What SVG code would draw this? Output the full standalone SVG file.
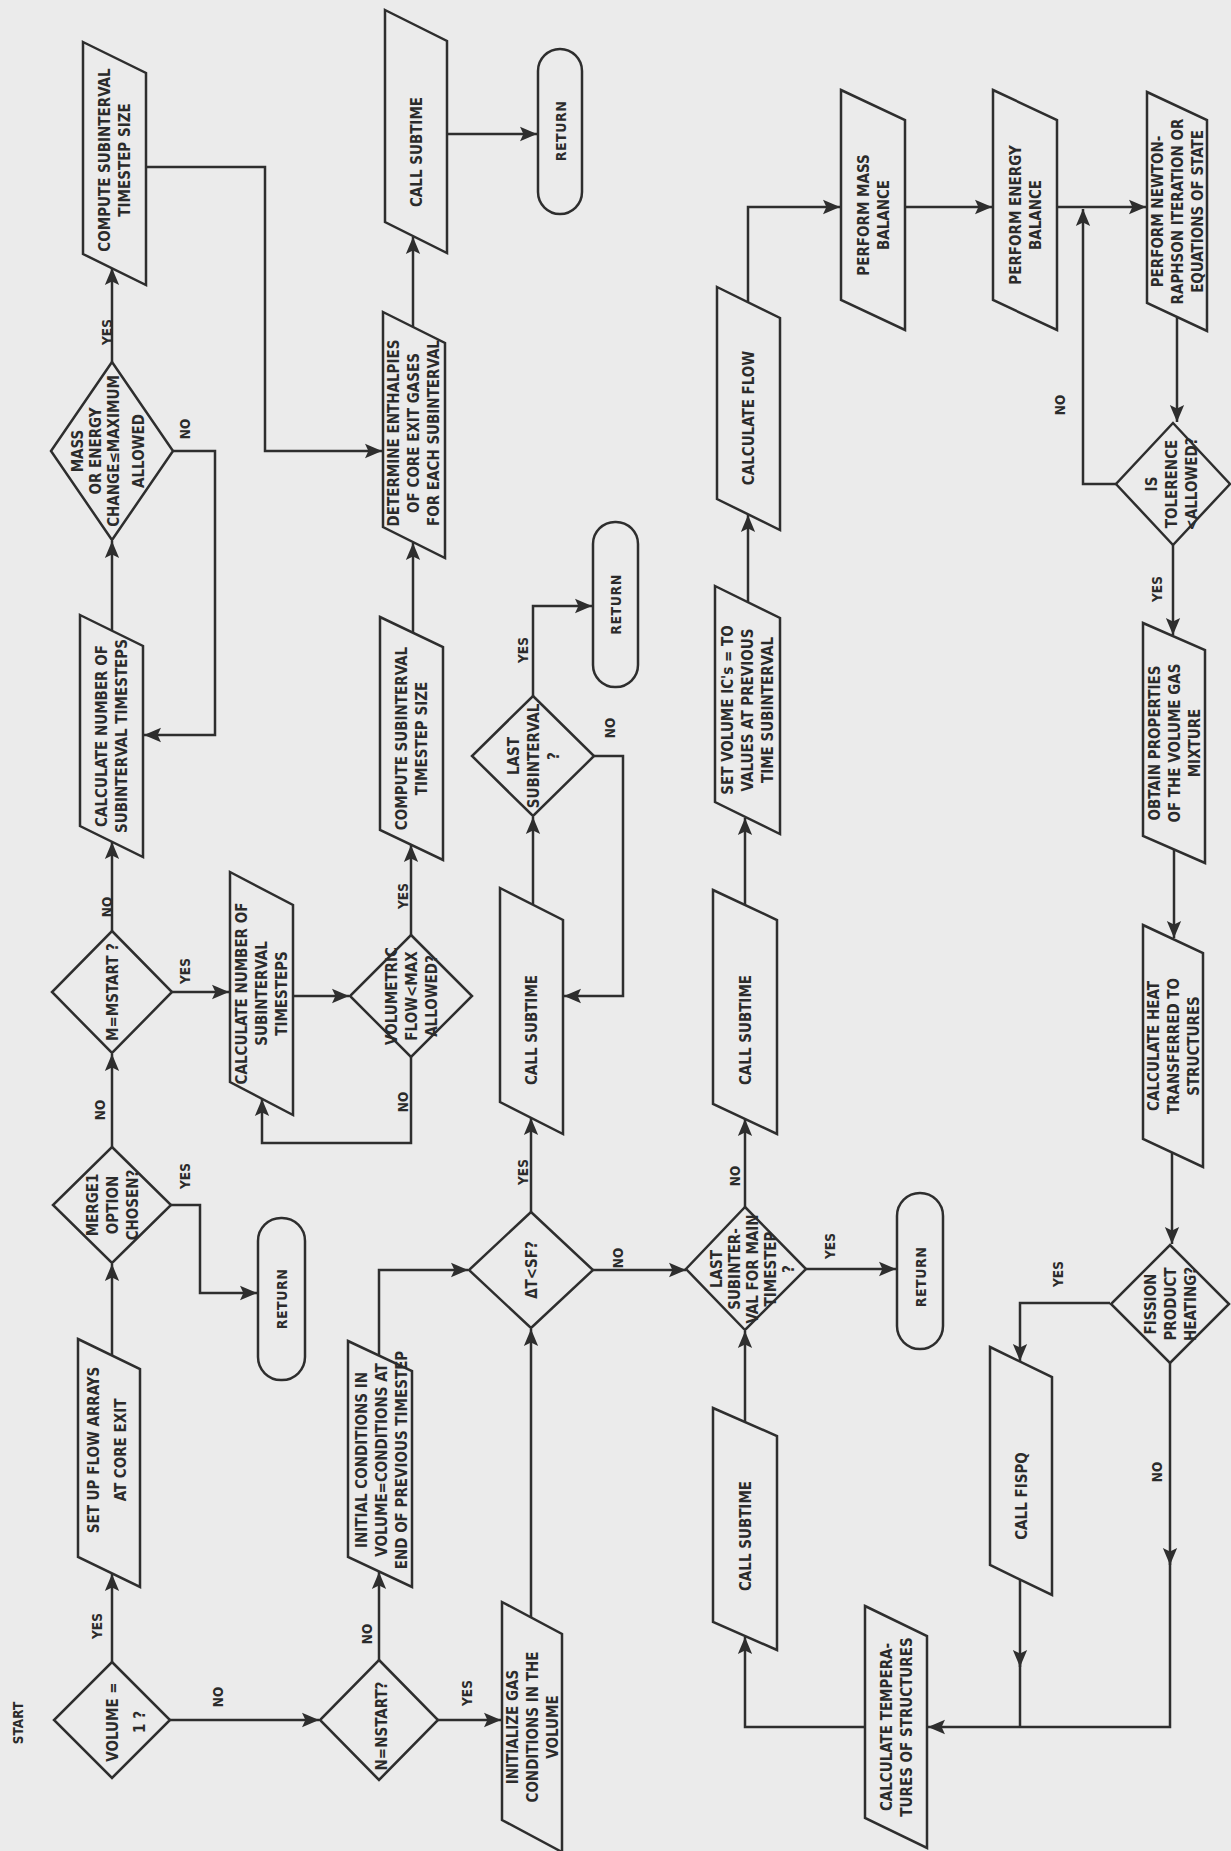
<svg xmlns="http://www.w3.org/2000/svg" width="1231" height="1851" viewBox="0 0 1231 1851">
<style>
.bg{fill:#ebebeb}
.n{fill:none;stroke:#2e2e2e;stroke-width:2.5;stroke-linejoin:miter}
.c{fill:none;stroke:#2e2e2e;stroke-width:2.5}
.t{font-family:"DejaVu Sans Condensed","DejaVu Sans","Liberation Sans",sans-serif;font-stretch:condensed;font-weight:bold;font-size:15px;fill:#2b2b2b;text-anchor:middle}
.l{font-family:"DejaVu Sans Condensed","DejaVu Sans","Liberation Sans",sans-serif;font-stretch:condensed;font-weight:bold;font-size:13.5px;fill:#2b2b2b;text-anchor:middle}
.r{letter-spacing:0.5px;font-size:14px}
</style>
<defs>
<marker id="a" viewBox="0 0 10 10" refX="10" refY="5" markerWidth="17" markerHeight="17" markerUnits="userSpaceOnUse" orient="auto">
<path d="M0,0.8 L10,5 L0,9.2 L2,5 z" fill="#2e2e2e"/>
</marker>
</defs>
<rect class="bg" x="0" y="0" width="1231" height="1851"/>

<g id="connectors">
<path class="c" d="M112,1662 V1574" marker-end="url(#a)"/>
<path class="c" d="M112,1355 V1264" marker-end="url(#a)"/>
<path class="c" d="M171,1205 H200 V1293 H257" marker-end="url(#a)"/>
<path class="c" d="M112,1147 V1054" marker-end="url(#a)"/>
<path class="c" d="M112,931 V842" marker-end="url(#a)"/>
<path class="c" d="M172,992 H229" marker-end="url(#a)"/>
<path class="c" d="M112,630 V541" marker-end="url(#a)"/>
<path class="c" d="M112,362 V268" marker-end="url(#a)"/>
<path class="c" d="M173,451 H215 V735 H144" marker-end="url(#a)"/>
<path class="c" d="M146,167 H265 V451 H382" marker-end="url(#a)"/>
<path class="c" d="M293,996 H349" marker-end="url(#a)"/>
<path class="c" d="M411,935 V845" marker-end="url(#a)"/>
<path class="c" d="M411,1057 V1143 H262 V1099" marker-end="url(#a)"/>
<path class="c" d="M413,633 V543" marker-end="url(#a)"/>
<path class="c" d="M413,327 V237" marker-end="url(#a)"/>
<path class="c" d="M447,134 H537" marker-end="url(#a)"/>
<path class="c" d="M170,1720 H319" marker-end="url(#a)"/>
<path class="c" d="M379,1662 V1572" marker-end="url(#a)"/>
<path class="c" d="M379,1356 V1270 H468" marker-end="url(#a)"/>
<path class="c" d="M438,1720 H501" marker-end="url(#a)"/>
<path class="c" d="M531,1618 V1329" marker-end="url(#a)"/>
<path class="c" d="M531,1212 V1118" marker-end="url(#a)"/>
<path class="c" d="M593,1270 H686" marker-end="url(#a)"/>
<path class="c" d="M533,904 V817" marker-end="url(#a)"/>
<path class="c" d="M533,696 V606 H592" marker-end="url(#a)"/>
<path class="c" d="M594,756 H623 V996 H564" marker-end="url(#a)"/>
<path class="c" d="M745,1208 V1119" marker-end="url(#a)"/>
<path class="c" d="M806,1269 H896" marker-end="url(#a)"/>
<path class="c" d="M745,905 V818" marker-end="url(#a)"/>
<path class="c" d="M748,602 V515" marker-end="url(#a)"/>
<path class="c" d="M748,302 V207 H840" marker-end="url(#a)"/>
<path class="c" d="M905,207 H992" marker-end="url(#a)"/>
<path class="c" d="M1057,207 H1146" marker-end="url(#a)"/>
<path class="c" d="M1116,484 H1083 V209" marker-end="url(#a)"/>
<path class="c" d="M1177,317 V422" marker-end="url(#a)"/>
<path class="c" d="M1173,545 V635" marker-end="url(#a)"/>
<path class="c" d="M1174,849 V938" marker-end="url(#a)"/>
<path class="c" d="M1172,1153 V1244" marker-end="url(#a)"/>
<path class="c" d="M1110,1303 H1020 V1361" marker-end="url(#a)"/>
<path class="c" d="M1020,1580 V1667" marker-end="url(#a)"/>
<path class="c" d="M1020,1660 V1727"/>
<path class="c" d="M1170,1363 V1565" marker-end="url(#a)"/>
<path class="c" d="M1170,1558 V1727 H928" marker-end="url(#a)"/>
<path class="c" d="M866,1727 H745 V1637" marker-end="url(#a)"/>
<path class="c" d="M745,1422 V1331" marker-end="url(#a)"/>
</g>

<g id="labels">
<text class="l" transform="translate(18,1723) rotate(-90)" y="5">START</text>
<text class="l" transform="translate(107,332) rotate(-90)" y="5">YES</text>
<text class="l" transform="translate(185,429) rotate(-90)" y="5">NO</text>
<text class="l" transform="translate(107,907) rotate(-90)" y="5">NO</text>
<text class="l" transform="translate(185,971) rotate(-90)" y="5">YES</text>
<text class="l" transform="translate(403,896) rotate(-90)" y="5">YES</text>
<text class="l" transform="translate(403,1102) rotate(-90)" y="5">NO</text>
<text class="l" transform="translate(100,1110) rotate(-90)" y="5">NO</text>
<text class="l" transform="translate(185,1176) rotate(-90)" y="5">YES</text>
<text class="l" transform="translate(97,1626) rotate(-90)" y="5">YES</text>
<text class="l" transform="translate(218,1697) rotate(-90)" y="5">NO</text>
<text class="l" transform="translate(367,1634) rotate(-90)" y="5">NO</text>
<text class="l" transform="translate(467,1693) rotate(-90)" y="5">YES</text>
<text class="l" transform="translate(523,1172) rotate(-90)" y="5">YES</text>
<text class="l" transform="translate(618,1258) rotate(-90)" y="5">NO</text>
<text class="l" transform="translate(523,650) rotate(-90)" y="5">YES</text>
<text class="l" transform="translate(610,728) rotate(-90)" y="5">NO</text>
<text class="l" transform="translate(735,1176) rotate(-90)" y="5">NO</text>
<text class="l" transform="translate(830,1246) rotate(-90)" y="5">YES</text>
<text class="l" transform="translate(1060,405) rotate(-90)" y="5">NO</text>
<text class="l" transform="translate(1157,589) rotate(-90)" y="5">YES</text>
<text class="l" transform="translate(1058,1274) rotate(-90)" y="5">YES</text>
<text class="l" transform="translate(1157,1472) rotate(-90)" y="5">NO</text>
</g>

<g id="compute1"><polygon class="n" points="83,42 146,73 146,285 83,254"/>
<text class="t" transform="translate(114.5,160) rotate(-90)"><tspan x="0" y="-4.5">COMPUTE SUBINTERVAL</tspan><tspan x="0" y="15.5">TIMESTEP SIZE</tspan></text></g>
<g id="callsubtime1"><polygon class="n" points="385,10 447,41 447,253 385,222"/>
<text class="t" transform="translate(416,152) rotate(-90)" y="5.5">CALL SUBTIME</text></g>
<g id="return1"><rect class="n" x="538" y="49" width="44" height="165" rx="22"/>
<text class="t r" transform="translate(560,131) rotate(-90)" y="5.5">RETURN</text></g>
<g id="determine"><polygon class="n" points="383,312 445,343 445,558 383,527"/>
<text class="t" transform="translate(413,433) rotate(-90)"><tspan x="0" y="-14.5">DETERMINE ENTHALPIES</tspan><tspan x="0" y="5.5">OF CORE EXIT GASES</tspan><tspan x="0" y="25.5">FOR EACH SUBINTERVAL</tspan></text></g>
<g id="calcflow"><polygon class="n" points="717,287 780,318 780,530 717,499"/>
<text class="t" transform="translate(748.5,418) rotate(-90)" y="5.5">CALCULATE FLOW</text></g>
<g id="massbal"><polygon class="n" points="841,90 905,120 905,330 841,300"/>
<text class="t" transform="translate(873,215) rotate(-90)"><tspan x="0" y="-4.5">PERFORM MASS</tspan><tspan x="0" y="15.5">BALANCE</tspan></text></g>
<g id="energybal"><polygon class="n" points="993,90 1057,120 1057,330 993,300"/>
<text class="t" transform="translate(1025,215) rotate(-90)"><tspan x="0" y="-4.5">PERFORM ENERGY</tspan><tspan x="0" y="15.5">BALANCE</tspan></text></g>
<g id="newton"><polygon class="n" points="1147,92 1207,120 1207,331 1147,303"/>
<text class="t" transform="translate(1177,211.5) rotate(-90)"><tspan x="0" y="-14.5">PERFORM NEWTON-</tspan><tspan x="0" y="5.5">RAPHSON ITERATION OR</tspan><tspan x="0" y="25.5">EQUATIONS OF STATE</tspan></text></g>
<g id="tolerence"><polygon class="n" points="1173,423 1230,484 1173,545 1116,484"/>
<text class="t" transform="translate(1171,484) rotate(-90)"><tspan x="0" y="-14.5">IS</tspan><tspan x="0" y="5.5">TOLERENCE</tspan><tspan x="0" y="25.5">&lt;ALLOWED?</tspan></text></g>
<g id="massdiamond"><polygon class="n" points="112,362 173,451 112,540 51,451"/>
<text class="t" transform="translate(112,451) rotate(-90)"><tspan x="0" y="-29.5">MASS</tspan><tspan x="0" y="-11.5">OR ENERGY</tspan><tspan x="0" y="6.5">CHANGE≤MAXIMUM</tspan><tspan x="0" y="32">ALLOWED</tspan></text></g>
<g id="calcnum1"><polygon class="n" points="80,615 143,646 143,857 80,826"/>
<text class="t" transform="translate(111.5,736) rotate(-90)"><tspan x="0" y="-4.5">CALCULATE NUMBER OF</tspan><tspan x="0" y="15.5">SUBINTERVAL TIMESTEPS</tspan></text></g>
<g id="mmstart"><polygon class="n" points="112,931 172,992 112,1053 52,992"/>
<text class="t" transform="translate(112,992) rotate(-90)" y="5.5">M=MSTART ?</text></g>
<g id="calcnum2"><polygon class="n" points="230,872 293,905 293,1115 230,1082"/>
<text class="t" transform="translate(261.5,993.5) rotate(-90)"><tspan x="0" y="-14.5">CALCULATE NUMBER OF</tspan><tspan x="0" y="5.5">SUBINTERVAL</tspan><tspan x="0" y="25.5">TIMESTEPS</tspan></text></g>
<g id="volumetric"><polygon class="n" points="411,935 472,996 411,1057 350,996"/>
<text class="t" transform="translate(411,996) rotate(-90)"><tspan x="0" y="-14.5">VOLUMETRIC</tspan><tspan x="0" y="5.5">FLOW&lt;MAX</tspan><tspan x="0" y="25.5">ALLOWED?</tspan></text></g>
<g id="compute2"><polygon class="n" points="380,617 443,647 443,860 380,830"/>
<text class="t" transform="translate(411.5,738.5) rotate(-90)"><tspan x="0" y="-4.5">COMPUTE SUBINTERVAL</tspan><tspan x="0" y="15.5">TIMESTEP SIZE</tspan></text></g>
<g id="return2"><rect class="n" x="593" y="522" width="45" height="165" rx="22"/>
<text class="t r" transform="translate(615.5,604.5) rotate(-90)" y="5.5">RETURN</text></g>
<g id="lastsub"><polygon class="n" points="533,696 594,756 533,816 472,756"/>
<text class="t" transform="translate(533,756) rotate(-90)"><tspan x="0" y="-14.5">LAST</tspan><tspan x="0" y="5.5">SUBINTERVAL</tspan><tspan x="0" y="25.5">?</tspan></text></g>
<g id="callsubtime2"><polygon class="n" points="500,888 563,920 563,1134 500,1102"/>
<text class="t" transform="translate(531.5,1030) rotate(-90)" y="5.5">CALL SUBTIME</text></g>
<g id="setvolume"><polygon class="n" points="715,586 780,618 780,834 715,802"/>
<text class="t" transform="translate(747.5,710) rotate(-90)"><tspan x="0" y="-14.5">SET VOLUME IC's = TO</tspan><tspan x="0" y="5.5">VALUES AT PREVIOUS</tspan><tspan x="0" y="25.5">TIME SUBINTERVAL</tspan></text></g>
<g id="callsubtime3"><polygon class="n" points="713,890 777,920 777,1134 713,1104"/>
<text class="t" transform="translate(745,1030) rotate(-90)" y="5.5">CALL SUBTIME</text></g>
<g id="obtain"><polygon class="n" points="1143,623 1205,650 1205,863 1143,836"/>
<text class="t" transform="translate(1174,743) rotate(-90)"><tspan x="0" y="-14.5">OBTAIN PROPERTIES</tspan><tspan x="0" y="5.5">OF THE VOLUME GAS</tspan><tspan x="0" y="25.5">MIXTURE</tspan></text></g>
<g id="calcheat"><polygon class="n" points="1143,925 1203,953 1203,1167 1143,1139"/>
<text class="t" transform="translate(1173,1046) rotate(-90)"><tspan x="0" y="-14.5">CALCULATE HEAT</tspan><tspan x="0" y="5.5">TRANSFERRED TO</tspan><tspan x="0" y="25.5">STRUCTURES</tspan></text></g>
<g id="merge1"><polygon class="n" points="112,1147 171,1205 112,1263 53,1205"/>
<text class="t" transform="translate(112,1205) rotate(-90)"><tspan x="0" y="-14.5">MERGE1</tspan><tspan x="0" y="5.5">OPTION</tspan><tspan x="0" y="25.5">CHOSEN?</tspan></text></g>
<g id="return3"><rect class="n" x="258" y="1218" width="47" height="162" rx="23"/>
<text class="t r" transform="translate(281.5,1299) rotate(-90)" y="5.5">RETURN</text></g>
<g id="setupflow"><polygon class="n" points="78,1339 140,1369 140,1587 78,1557"/>
<text class="t" transform="translate(108,1450) rotate(-90)"><tspan x="0" y="-9.5">SET UP FLOW ARRAYS</tspan><tspan x="0" y="17.5">AT CORE EXIT</tspan></text></g>
<g id="volume1"><polygon class="n" points="112,1662 170,1720 112,1778 54,1720"/>
<text class="t" transform="translate(112,1722) rotate(-90)"><tspan x="0" y="5.5">VOLUME =</tspan><tspan x="0" y="33">1 ?</tspan></text></g>
<g id="nnstart"><polygon class="n" points="379,1660 438,1720 379,1780 320,1720"/>
<text class="t" transform="translate(381,1726) rotate(-90)" y="5.5">N=NSTART?</text></g>
<g id="initial"><polygon class="n" points="348,1341 412,1371 412,1587 348,1557"/>
<text class="t" transform="translate(381,1460) rotate(-90)"><tspan x="0" y="-14.5">INITIAL CONDITIONS IN</tspan><tspan x="0" y="5.5">VOLUME=CONDITIONS AT</tspan><tspan x="0" y="25.5">END OF PREVIOUS TIMESTEP</tspan></text></g>
<g id="deltat"><polygon class="n" points="531,1212 593,1270 531,1328 469,1270"/>
<text class="t" transform="translate(531,1270) rotate(-90)" y="5.5">ΔT&lt;SF?</text></g>
<g id="initialize"><polygon class="n" points="502,1602 562,1634 562,1852 502,1820"/>
<text class="t" transform="translate(532,1727) rotate(-90)"><tspan x="0" y="-14.5">INITIALIZE GAS</tspan><tspan x="0" y="5.5">CONDITIONS IN THE</tspan><tspan x="0" y="25.5">VOLUME</tspan></text></g>
<g id="lastmain"><polygon class="n" points="745,1207 806,1269 745,1330 686,1269"/>
<text class="t" transform="translate(752,1269) rotate(-90)"><tspan x="0" y="-30.5">LAST</tspan><tspan x="0" y="-12.5">SUBINTER-</tspan><tspan x="0" y="5.5">VAL FOR MAIN</tspan><tspan x="0" y="23.5">TIMESTEP</tspan><tspan x="0" y="41.5">?</tspan></text></g>
<g id="callsubtime4"><polygon class="n" points="713,1408 777,1436 777,1650 713,1622"/>
<text class="t" transform="translate(745,1536) rotate(-90)" y="5.5">CALL SUBTIME</text></g>
<g id="return4"><rect class="n" x="897" y="1193" width="46" height="156" rx="23"/>
<text class="t r" transform="translate(920,1277) rotate(-90)" y="5.5">RETURN</text></g>
<g id="fission"><polygon class="n" points="1170,1245 1229,1304 1170,1363 1111,1304"/>
<text class="t" transform="translate(1170,1304) rotate(-90)"><tspan x="0" y="-14.5">FISSION</tspan><tspan x="0" y="5.5">PRODUCT</tspan><tspan x="0" y="25.5">HEATING?</tspan></text></g>
<g id="callfispq"><polygon class="n" points="990,1347 1052,1377 1052,1595 990,1565"/>
<text class="t" transform="translate(1021,1496) rotate(-90)" y="5.5">CALL FISPQ</text></g>
<g id="calctemp"><polygon class="n" points="865,1606 927,1636 927,1848 865,1818"/>
<text class="t" transform="translate(896,1727) rotate(-90)"><tspan x="0" y="-4.5">CALCULATE TEMPERA-</tspan><tspan x="0" y="15.5">TURES OF STRUCTURES</tspan></text></g>
</svg>
